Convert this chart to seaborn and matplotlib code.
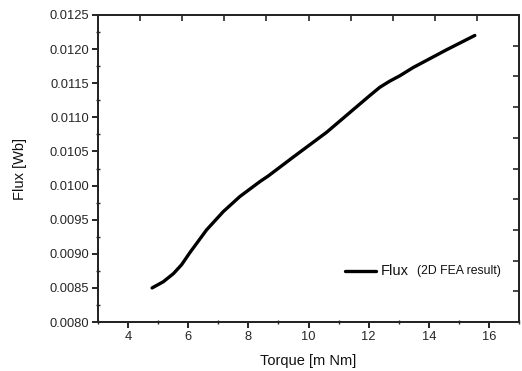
import matplotlib
matplotlib.use("Agg")
import matplotlib.pyplot as plt
import seaborn as sns
import pandas as pd
from matplotlib.ticker import MultipleLocator, FormatStrFormatter

torque = [4.80, 5.17, 5.51, 5.78, 6.06, 6.61, 7.17, 7.72, 8.39, 8.66, 9.50, 10.60,
          11.72, 12.04, 12.37, 12.70, 13.04, 13.48, 14.59, 15.53]
flux = [0.00850, 0.00859, 0.00871, 0.00884, 0.00902, 0.00935, 0.00962, 0.00984, 0.01006,
        0.01014, 0.01042, 0.01078, 0.01120, 0.01132, 0.01144, 0.01153, 0.01161, 0.01173,
        0.01199, 0.01220]

x_label = "Torque [m Nm]"
y_label = "Flux [Wb]"
legend_main = "Flux"
legend_note = "(2D FEA result)"

sns.set_theme(style="ticks")
plt.rcParams['font.family'] = ['Liberation Sans', 'DejaVu Sans']

df = pd.DataFrame({"torque": torque, "flux": flux})

fig = plt.figure(figsize=(5.22, 3.71), dpi=100)
ax = fig.add_axes([0.1877, 0.132, 0.8066, 0.8276])

sns.lineplot(data=df, x="torque", y="flux", ax=ax, color="black", linewidth=2.4,
             label=legend_main, legend=False)

ax.set_xlim(3, 17)
ax.set_ylim(0.0080, 0.0125)
ax.xaxis.set_major_locator(MultipleLocator(2))
ax.xaxis.set_minor_locator(MultipleLocator(1))
ax.yaxis.set_major_locator(MultipleLocator(0.0005))
ax.yaxis.set_minor_locator(MultipleLocator(0.00025))
ax.yaxis.set_major_formatter(FormatStrFormatter('%.4f'))

for s in ax.spines.values():
    s.set_linewidth(1.3)
    s.set_color("black")
    s.set_visible(True)

ax.tick_params(axis='both', which='major', direction='out', length=4.5, width=1.2,
               labelsize=9.3, colors='black', labelcolor='#262626', pad=2)
ax.tick_params(axis='both', which='minor', direction='inout', length=3, width=1.0)

ax.set_xlabel(x_label, fontsize=10.5, labelpad=8, color='#111111')
ax.set_ylabel(y_label, fontsize=10.5, labelpad=16, color='#111111')

# secondary (unlabelled) top and right tick sets
axt = ax.twiny()
axt.set_xlim(0, 1)
axt.set_xticks([i / 10 for i in range(1, 10)])
axt.tick_params(axis='x', direction='in', length=4, width=1.2, labeltop=False)
axr = ax.twinx()
axr.set_ylim(0, 1)
axr.set_yticks([i / 10 for i in range(1, 10)])
axr.tick_params(axis='y', direction='in', length=4, width=1.2, labelright=False)
for a in (axt, axr):
    for s in a.spines.values():
        s.set_linewidth(1.3)

# legend
ax.plot([0.587, 0.660], [0.167, 0.167], transform=ax.transAxes, color='black', linewidth=2.4)
ax.text(0.672, 0.167, legend_main, transform=ax.transAxes, fontsize=10.5,
        va='center', ha='left', color='#111111')
ax.text(0.757, 0.167, legend_note, transform=ax.transAxes, fontsize=8.8,
        va='center', ha='left', color='#111111')

fig.savefig("out.png", dpi=100)
